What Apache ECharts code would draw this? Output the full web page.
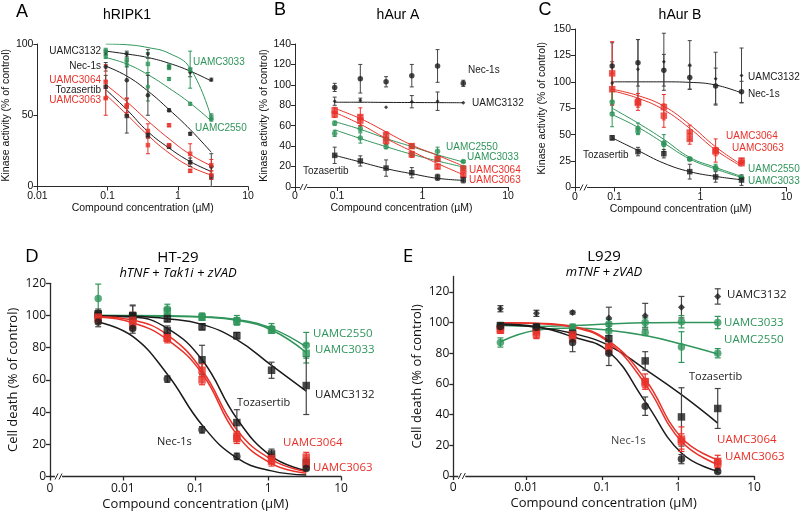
<!DOCTYPE html>
<html><head><meta charset="utf-8">
<script src="https://cdn.jsdelivr.net/npm/echarts@6/dist/echarts.min.js"></script>
<style>html,body{margin:0;padding:0;background:#fff}#c{width:800px;height:516px}</style>
</head><body><div id="c"></div>
<script>
// ---------------- DATA ----------------
const concABC = [0.094, 0.1875, 0.375, 0.75, 1.5, 3];
const concDE = [0.0046, 0.0137, 0.041, 0.123, 0.37, 1.11, 3.33];

const xLabelsA = ['0.01', '0.1', '1', '10'];
const xLabelsBC = ['0', '0.1', '1', '10'];
const xLabelsDE = ['0', '0.01', '0.1', '1', '10'];
const yTicksA = [0, 50, 100];
const yTicksB = [0, 20, 40, 60, 80, 100, 120, 140];
const yTicksC = [0, 25, 50, 75, 100, 125, 150];
const yTicksDE = [0, 20, 40, 60, 80, 100, 120];

// Panel A  hRIPK1
const A_3132 = [94, 93, 93, 84, 80, 75],       A_3132_err = [1.5, 2, 3, 1, 3, 1],   A_3132_fit = [95, 93, 90.5, 86.5, 81, 74];
const A_3033 = [95, 89, 86, 84, 82, 49],       A_3033_err = [2, 5, 8, 2, 13, 2],    A_3033_fit = [100, 99.5, 97.5, 93.5, 83, 48];
const A_2550 = [91, 86, 70, 75.5, 58, 47],     A_2550_err = [1, 2, 10, 1, 1, 1],    A_2550_fit = [90.5, 86, 78.5, 69, 58.5, 46];
const A_Nec1s = [84, 74.5, 64, 53.5, 37, 14],  A_Nec1s_err = [3, 18, 14, 1, 1, 9],  A_Nec1s_fit = [84.5, 77.5, 67, 54, 40, 24];
const A_3064 = [73.5, 57, 39, 43, 23, 15],     A_3064_err = [12, 5, 5, 1, 7, 4],    A_3064_fit = [71.5, 59.5, 46, 33.5, 22.5, 14.5];
const A_Toz = [70, 49.5, 36, 28, 17, 7],       A_Toz_err = [8, 12, 2, 1, 3, 7],     A_Toz_fit = [68, 54, 38.5, 27, 17.5, 10.5];
const A_3063 = [62, 56, 29, 29, 11, 8],        A_3063_err = [12, 6, 6, 1, 1, 3],    A_3063_fit = [64.5, 50.5, 36, 23.5, 14, 8];

// Panel B  hAur A
const B_Nec1s = [97.5, 106, 103, 109, 118.5, 101.5], B_Nec1s_err = [4, 14, 5, 11, 16, 3];
const B_3132 = [84, 85, 78, 83.5, 84, 82.5],   B_3132_err = [4, 2, 0, 6, 9, 0],     B_3132_fit = [83, 83, 82.8, 82.7, 82.6, 82.5];
const B_3064 = [75, 68.5, 51, 40, 27.5, 18],   B_3064_err = [3, 9, 3, 2, 2, 2],     B_3064_fit = [77, 67, 54, 41, 31, 20.5];
const B_3063 = [71, 65, 45, 32, 20, 12],       B_3063_err = [3, 5, 3, 3, 2, 2],     B_3063_fit = [73, 61.5, 47.5, 35, 23, 12];
const B_2550 = [62.5, 57, 47, 40, 35, 25],     B_2550_err = [2, 3, 5, 2, 4, 1],     B_2550_fit = [64, 56.5, 47.5, 39.5, 31.5, 24.5];
const B_3033 = [52.5, 48, 39.5, 32, 27, 19],   B_3033_err = [3, 5, 2, 2, 2, 1],     B_3033_fit = [56, 47.5, 39.5, 32, 25.5, 19.5];
const B_Toz = [31, 25.5, 18.5, 14, 9.5, 7],    B_Toz_err = [8, 5, 8, 5, 3, 3],      B_Toz_fit = [31, 24.5, 18, 13, 8.5, 6.5];

// Panel C  hAur B
const C_3132 = [99, 112, 119, 116, 103, 106],  C_3132_err = [20, 28, 27, 23, 25, 26];
const C_Nec1s = [115, 118, 111, 104, 96, 90.5], C_Nec1s_err = [22, 22, 15, 11, 17, 10], C_Nec1s_fit = [100, 100, 100, 99.5, 97, 89.5];
const C_3064 = [108, 81, 76, 52, 35, 25.5],    C_3064_err = [30, 8, 12, 7, 11, 2],  C_3064_fit = [93, 87, 77, 59.5, 38.5, 21.5];
const C_3063 = [93, 80, 68, 46, 34, 23],       C_3063_err = [15, 4, 11, 5, 4, 1],   C_3063_fit = [91.5, 84.5, 73.5, 56, 35.5, 20];
const C_2550 = [81, 56, 42, 27, 19, 9.5],      C_2550_err = [10, 5, 8, 1, 3, 1],    C_2550_fit = [75, 61, 45.5, 28.5, 19, 10.5];
const C_3033 = [69.5, 53, 41, 27, 18, 9],      C_3033_err = [12, 3, 2, 1, 1, 1],    C_3033_fit = [69, 57, 42, 27, 17.5, 9.5];
const C_Toz = [47, 34, 32, 15, 10, 7],         C_Toz_err = [2, 4, 4, 7, 5, 5],      C_Toz_fit = [47, 35, 23, 15, 10.5, 7.3];

// Panel D  HT-29
const D_Nec1s = [96, 92, 60.5, 29, 12.5, null, 5], D_Nec1s_err = [3, 3, 2, 2, 2, 0, 1], D_Nec1s_fit = [96, 87, 63.5, 32, 11.5, 3.5, 1];
const D_Toz = [101, 100, 90.5, 72.5, 33.5, 14, 8.5], D_Toz_err = [3, 6, 3, 9, 8, 3, 3], D_Toz_fit = [99.5, 99, 92, 72.5, 36, 12.5, 3.7];
const D_3132 = [100, 99.5, 98, 93, 87.5, 66, 56.5], D_3132_err = [3, 7, 2, 2, 2, 5, 18], D_3132_fit = [99.8, 99.5, 98, 94.5, 85, 69, 53];
const D_3064 = [98, 97, 86, 66, 25, 11, 12],   D_3064_err = [3, 5, 3, 4, 3, 3, 3],  D_3064_fit = [99.3, 97.2, 88, 66, 29, 10.5, 3];
const D_3063 = [99, 95, 86, 60, 23.5, 9.5, 7.5], D_3063_err = [2, 4, 2, 3, 3, 3, 3], D_3063_fit = [99, 95.5, 85, 64, 26, 8, 2];
const D_2550 = [110.5, 98, 104, 99.5, 97, 92, 81.5], D_2550_err = [9, 3, 3, 2, 3, 3, 8], D_2550_fit = [100, 100, 99.8, 99.3, 97.5, 92, 80.5];
const D_3033 = [100.5, 99.5, 102.5, 99, 96.5, 91, 76.5], D_3033_err = [2, 2, 2, 2, 2, 2, 6], D_3033_fit = [100, 99.8, 99.5, 99, 97, 91, 77];

// Panel E  L929
const E_3132 = [109, 106, 106.5, 103, 104.5, 110, 117], E_3132_err = [2, 2, 1, 7, 8, 7, 5];
const E_3033 = [98, 96, 97, 99, 100, 100.5, 100], E_3033_err = [1, 2, 2, 3, 3, 4, 4], E_3033_fit = [98, 97.5, 98, 99, 99.8, 100, 100];
const E_2550 = [87, 96, 96.5, 94.5, 93.5, 84, 80], E_2550_err = [3, 2, 2, 3, 2, 10, 3], E_2550_fit = [87.5, 95, 96.5, 95, 91.5, 86, 79.5];
const E_Toz = [98, 97, 93, 89.5, 75, 38.5, 44], E_Toz_err = [2, 2, 3, 10, 6, 19, 13], E_Toz_fit = [98.5, 97, 93, 85, 69.5, 53, 34.5];
const E_Nec1s = [97.5, 97, 87, 80, 45.5, 11, 3], E_Nec1s_err = [2, 2, 6, 8, 6, 3, 1], E_Nec1s_fit = [99, 97.2, 90.7, 81, 48.5, 15, 3];
const E_3064 = [96, 94, 92, 84, 61.5, 24, 9.5], E_3064_err = [3, 4, 4, 4, 5, 8, 4], E_3064_fit = [99.8, 99.5, 97.5, 88, 63, 25, 10.5];
const E_3063 = [95, 92.5, 90.5, 83, 60.5, 22.5, 8], E_3063_err = [2, 3, 3, 3, 3, 5, 3], E_3063_fit = [99.8, 99.3, 97, 87, 60, 22.5, 7.5];

// ---------------- STYLE / LAYOUT ----------------
const RED = '#e8322a', GREEN = '#2f955b', BLACK = '#1b1b1b';
const F1 = 'Liberation Sans, Arial, sans-serif';
const F2 = 'Open Sans, sans-serif';

const panels = [
  { grid: {left: 36, top: 44, width: 212, height: 142.5}, conc: concABC, xMin: -2, xMax: 1, xLabels: xLabelsA,
    yMax: 100, yTicks: yTicksA, yName: 'Kinase activity (% of control)', font: F1, fs: 10.5, nfs: 10.5,
    xNameGap: 14, yNameGap: 20, lblMargin: 4, size: 4.5, cap: 2, lw: 1, brk: false,
    series: [
      {c: BLACK, s: 'diamond', v: A_3132, e: A_3132_err, f: A_3132_fit},
      {c: GREEN, s: 'rect', v: A_3033, e: A_3033_err, f: A_3033_fit},
      {c: GREEN, s: 'circle', v: A_2550, e: A_2550_err, f: A_2550_fit},
      {c: BLACK, s: 'circle', v: A_Nec1s, e: A_Nec1s_err, f: A_Nec1s_fit},
      {c: RED, s: 'rect', v: A_3064, e: A_3064_err, f: A_3064_fit},
      {c: BLACK, s: 'rect', v: A_Toz, e: A_Toz_err, f: A_Toz_fit},
      {c: RED, s: 'rect', v: A_3063, e: A_3063_err, f: A_3063_fit}
    ]},
  { grid: {left: 295, top: 44, width: 213, height: 143}, conc: concABC, xMin: -1.491, xMax: 1, xLabels: xLabelsBC,
    yMax: 140, yTicks: yTicksB, yName: 'Kinase activity (% of control)', font: F1, fs: 10.5, nfs: 10.5,
    xNameGap: 14, yNameGap: 24, lblMargin: 4, size: 5.5, cap: 2, lw: 1, brk: true,
    series: [
      {c: BLACK, s: 'circle', v: B_Nec1s, e: B_Nec1s_err, f: null},
      {c: BLACK, s: 'diamond', v: B_3132, e: B_3132_err, f: B_3132_fit, sz: 4},
      {c: GREEN, s: 'circle', v: B_2550, e: B_2550_err, f: B_2550_fit},
      {c: GREEN, s: 'circle', v: B_3033, e: B_3033_err, f: B_3033_fit},
      {c: RED, s: 'rect', v: B_3064, e: B_3064_err, f: B_3064_fit, sz: 6.5},
      {c: RED, s: 'rect', v: B_3063, e: B_3063_err, f: B_3063_fit, sz: 6.5},
      {c: BLACK, s: 'rect', v: B_Toz, e: B_Toz_err, f: B_Toz_fit}
    ]},
  { grid: {left: 575, top: 29, width: 211.5, height: 158.5}, conc: concABC, xMin: -1.459, xMax: 1, xLabels: xLabelsBC,
    yMax: 150, yTicks: yTicksC, yName: 'Kinase activity (% of control)', font: F1, fs: 10.5, nfs: 10.5,
    xNameGap: 14, yNameGap: 27, lblMargin: 4, size: 5.5, cap: 2, lw: 1, brk: true,
    series: [
      {c: BLACK, s: 'diamond', v: C_3132, e: C_3132_err, f: null, sz: 4},
      {c: BLACK, s: 'circle', v: C_Nec1s, e: C_Nec1s_err, f: C_Nec1s_fit},
      {c: RED, s: 'rect', v: C_3064, e: C_3064_err, f: C_3064_fit, sz: 6.5},
      {c: RED, s: 'rect', v: C_3063, e: C_3063_err, f: C_3063_fit, sz: 6.5},
      {c: GREEN, s: 'circle', v: C_2550, e: C_2550_err, f: C_2550_fit},
      {c: GREEN, s: 'circle', v: C_3033, e: C_3033_err, f: C_3033_fit},
      {c: BLACK, s: 'rect', v: C_Toz, e: C_Toz_err, f: C_Toz_fit}
    ]},
  { grid: {left: 50, top: 283.3, width: 291, height: 193.2}, conc: concDE, xMin: -3, xMax: 1, xLabels: xLabelsDE,
    yMax: 120, yTicks: yTicksDE, yName: 'Cell death (% of control)', font: F2, fs: 12, nfs: 13,
    xNameGap: 21, yNameGap: 30, lblMargin: 6, size: 7.5, cap: 3, lw: 1.5, brk: true,
    series: [
      {c: GREEN, s: 'circle', v: D_2550, e: D_2550_err, f: D_2550_fit},
      {c: GREEN, s: 'rect', v: D_3033, e: D_3033_err, f: D_3033_fit},
      {c: BLACK, s: 'rect', v: D_3132, e: D_3132_err, f: D_3132_fit},
      {c: BLACK, s: 'rect', v: D_Toz, e: D_Toz_err, f: D_Toz_fit},
      {c: RED, s: 'rect', v: D_3064, e: D_3064_err, f: D_3064_fit},
      {c: RED, s: 'rect', v: D_3063, e: D_3063_err, f: D_3063_fit},
      {c: BLACK, s: 'circle', v: D_Nec1s, e: D_Nec1s_err, f: D_Nec1s_fit}
    ]},
  { grid: {left: 453.3, top: 276.5, width: 300.7, height: 199.5}, conc: concDE, xMin: -2.957, xMax: 1, xLabels: xLabelsDE,
    yMax: 130, yTicks: yTicksDE, yName: 'Cell death (% of control)', font: F2, fs: 12, nfs: 13,
    xNameGap: 21, yNameGap: 30, lblMargin: 6, size: 7.5, cap: 3, lw: 1.5, brk: true,
    series: [
      {c: BLACK, s: 'diamond', v: E_3132, e: E_3132_err, f: null, sz: 7},
      {c: GREEN, s: 'circle', v: E_3033, e: E_3033_err, f: E_3033_fit},
      {c: GREEN, s: 'circle', v: E_2550, e: E_2550_err, f: E_2550_fit},
      {c: BLACK, s: 'rect', v: E_Toz, e: E_Toz_err, f: E_Toz_fit},
      {c: RED, s: 'rect', v: E_3064, e: E_3064_err, f: E_3064_fit},
      {c: RED, s: 'rect', v: E_3063, e: E_3063_err, f: E_3063_fit},
      {c: BLACK, s: 'circle', v: E_Nec1s, e: E_Nec1s_err, f: E_Nec1s_fit}
    ]}
];

const texts = [
  {t: 'A', x: 22, y: 12, c: '#000', f: '18px ' + F1, a: 'center'},
  {t: 'hRIPK1', x: 127, y: 15, c: '#000', f: '14px ' + F1, a: 'center'},
  {t: 'B', x: 280, y: 10, c: '#000', f: '18px ' + F1, a: 'center'},
  {t: 'hAur A', x: 398, y: 15, c: '#000', f: '14px ' + F1, a: 'center'},
  {t: 'C', x: 545, y: 10, c: '#000', f: '18px ' + F1, a: 'center'},
  {t: 'hAur B', x: 680, y: 15, c: '#000', f: '14px ' + F1, a: 'center'},
  {t: 'D', x: 32, y: 257, c: '#000', f: '19px ' + F2, a: 'center'},
  {t: 'HT-29', x: 178, y: 258, c: '#000', f: '15px ' + F2, a: 'center'},
  {t: 'hTNF + Tak1i + zVAD', x: 178, y: 273, c: '#000', f: 'italic 13px ' + F2, a: 'center'},
  {t: 'E', x: 408, y: 257, c: '#000', f: '19px ' + F2, a: 'center'},
  {t: 'L929', x: 604, y: 257, c: '#000', f: '15px ' + F2, a: 'center'},
  {t: 'mTNF + zVAD', x: 604, y: 272, c: '#000', f: 'italic 13px ' + F2, a: 'center'},
  {t: 'UAMC3132', x: 101, y: 51, c: BLACK, f: '10px ' + F1, a: 'right'},
  {t: 'Nec-1s', x: 101, y: 66, c: BLACK, f: '10px ' + F1, a: 'right'},
  {t: 'UAMC3064', x: 101, y: 80, c: RED, f: '10px ' + F1, a: 'right'},
  {t: 'Tozasertib', x: 101, y: 90, c: BLACK, f: '10px ' + F1, a: 'right'},
  {t: 'UAMC3063', x: 101, y: 100, c: RED, f: '10px ' + F1, a: 'right'},
  {t: 'UAMC3033', x: 193, y: 62, c: GREEN, f: '10px ' + F1, a: 'left'},
  {t: 'UAMC2550', x: 195, y: 128, c: GREEN, f: '10px ' + F1, a: 'left'},
  {t: 'Nec-1s', x: 468, y: 70, c: BLACK, f: '10px ' + F1, a: 'left'},
  {t: 'UAMC3132', x: 472, y: 103, c: BLACK, f: '10px ' + F1, a: 'left'},
  {t: 'UAMC2550', x: 446, y: 147, c: GREEN, f: '10px ' + F1, a: 'left'},
  {t: 'UAMC3033', x: 467, y: 157, c: GREEN, f: '10px ' + F1, a: 'left'},
  {t: 'UAMC3064', x: 469, y: 170, c: RED, f: '10px ' + F1, a: 'left'},
  {t: 'UAMC3063', x: 469, y: 180, c: RED, f: '10px ' + F1, a: 'left'},
  {t: 'Tozasertib', x: 303, y: 171, c: BLACK, f: '10px ' + F1, a: 'left'},
  {t: 'UAMC3132', x: 748, y: 77, c: BLACK, f: '10px ' + F1, a: 'left'},
  {t: 'Nec-1s', x: 748, y: 94, c: BLACK, f: '10px ' + F1, a: 'left'},
  {t: 'UAMC3064', x: 726, y: 136, c: RED, f: '10px ' + F1, a: 'left'},
  {t: 'UAMC3063', x: 732, y: 148, c: RED, f: '10px ' + F1, a: 'left'},
  {t: 'UAMC2550', x: 748, y: 169, c: GREEN, f: '10px ' + F1, a: 'left'},
  {t: 'UAMC3033', x: 748, y: 181, c: GREEN, f: '10px ' + F1, a: 'left'},
  {t: 'Tozasertib', x: 583, y: 155, c: BLACK, f: '10px ' + F1, a: 'left'},
  {t: 'UAMC2550', x: 313, y: 334, c: GREEN, f: '11.5px ' + F2, a: 'left'},
  {t: 'UAMC3033', x: 315, y: 350, c: GREEN, f: '11.5px ' + F2, a: 'left'},
  {t: 'UAMC3132', x: 315, y: 395, c: BLACK, f: '11.5px ' + F2, a: 'left'},
  {t: 'Tozasertib', x: 237, y: 403, c: '#222', f: '11px ' + F2, a: 'left'},
  {t: 'Nec-1s', x: 157, y: 442, c: '#222', f: '11px ' + F2, a: 'left'},
  {t: 'UAMC3064', x: 283, y: 443, c: RED, f: '11.5px ' + F2, a: 'left'},
  {t: 'UAMC3063', x: 313, y: 468, c: RED, f: '11.5px ' + F2, a: 'left'},
  {t: 'UAMC3132', x: 727, y: 295, c: BLACK, f: '11.5px ' + F2, a: 'left'},
  {t: 'UAMC3033', x: 724, y: 323, c: GREEN, f: '11.5px ' + F2, a: 'left'},
  {t: 'UAMC2550', x: 724, y: 340, c: GREEN, f: '11.5px ' + F2, a: 'left'},
  {t: 'Tozasertib', x: 689, y: 377, c: '#222', f: '11px ' + F2, a: 'left'},
  {t: 'Nec-1s', x: 611, y: 441, c: '#444', f: '11px ' + F2, a: 'left'},
  {t: 'UAMC3064', x: 717, y: 440, c: RED, f: '11.5px ' + F2, a: 'left'},
  {t: 'UAMC3063', x: 725, y: 457, c: RED, f: '11.5px ' + F2, a: 'left'}
];

// ---------------- BUILD ----------------
const chart = echarts.init(document.getElementById('c'), null, {renderer: 'canvas'});
const lg = Math.log10;

function tickVals(p) {
  return p.xLabels.map(l => l === '0' ? p.xMin : lg(parseFloat(l)));
}

function errRender(cap, lw) {
  return function (params, api) {
    const x = api.value(0), y = api.value(1), e = api.value(2);
    if (!(e > 0)) return null;
    const t = api.coord([x, y + e]), b = api.coord([x, Math.max(0, y - e)]);
    const st = {stroke: api.visual('color'), lineWidth: lw};
    return {type: 'group', children: [
      {type: 'line', shape: {x1: t[0], y1: t[1], x2: b[0], y2: b[1]}, style: st},
      {type: 'line', shape: {x1: t[0] - cap, y1: t[1], x2: t[0] + cap, y2: t[1]}, style: st},
      {type: 'line', shape: {x1: b[0] - cap, y1: b[1], x2: b[0] + cap, y2: b[1]}, style: st}
    ]};
  };
}

const grids = [], xAxes = [], yAxes = [], series = [], graphics = [];
panels.forEach((p, i) => {
  grids.push(Object.assign({containLabel: false}, p.grid));
  const tv = tickVals(p);
  const axisColor = '#2a2a2a';
  const aw = p.lw === 1 ? 1 : 1.3;
  xAxes.push({
    gridIndex: i, type: 'value', min: p.xMin, max: p.xMax, position: 'bottom',
    axisLine: {show: true, onZero: false, lineStyle: {color: axisColor, width: aw}},
    axisTick: {show: true, customValues: tv, length: 4, lineStyle: {color: axisColor, width: aw}},
    axisLabel: {customValues: tv, margin: p.lblMargin, color: '#111', fontSize: p.fs, fontFamily: p.font,
      formatter: v => { const k = tv.findIndex(t => Math.abs(t - v) < 1e-6); return k >= 0 ? p.xLabels[k] : ''; }},
    splitLine: {show: false}, minorTick: {show: false},
    name: 'Compound concentration (µM)', nameLocation: 'middle', nameGap: p.xNameGap,
    nameTextStyle: {fontSize: p.nfs, fontFamily: p.font, color: '#111'}
  });
  yAxes.push({
    gridIndex: i, type: 'value', min: 0, max: p.yMax, position: 'left',
    axisLine: {show: true, onZero: false, lineStyle: {color: axisColor, width: aw}},
    axisTick: {show: true, customValues: p.yTicks, length: 4, lineStyle: {color: axisColor, width: aw}},
    axisLabel: {customValues: p.yTicks, margin: 4, color: '#111', fontSize: p.fs, fontFamily: p.font},
    splitLine: {show: false},
    name: p.yName, nameLocation: 'middle', nameRotate: 90, nameGap: p.yNameGap,
    nameTextStyle: {fontSize: p.nfs, fontFamily: p.font, color: '#111'}
  });
  p.series.forEach(s => {
    if (s.f) {
      series.push({type: 'line', xAxisIndex: i, yAxisIndex: i, silent: true, z: 2,
        data: p.conc.map((c, k) => [lg(c), s.f[k]]), smooth: 0.45,
        symbol: 'none', lineStyle: {color: s.c, width: p.lw}});
    }
    const pts = [];
    p.conc.forEach((c, k) => { if (s.v[k] != null) pts.push([lg(c), s.v[k], s.e[k]]); });
    series.push({type: 'custom', xAxisIndex: i, yAxisIndex: i, silent: true, z: 3,
      itemStyle: {color: s.c === BLACK ? '#444' : s.c, opacity: s.c === BLACK ? 0.9 : 0.85},
      renderItem: errRender(p.cap, p.lw === 1 ? 1 : 1.2), encode: {x: 0, y: 1}, data: pts});
    series.push({type: 'scatter', xAxisIndex: i, yAxisIndex: i, silent: true, z: 4,
      symbol: s.s, symbolSize: s.sz || p.size, itemStyle: {color: s.c},
      data: pts.map(d => [d[0], d[1]])});
  });
  if (p.brk) {
    const bx = p.grid.left + 8, by = p.grid.top + p.grid.height;
    graphics.push({type: 'rect', shape: {x: bx - 3, y: by - 2, width: 7, height: 4}, style: {fill: '#fff'}, z: 100});
    graphics.push({type: 'line', shape: {x1: bx - 3, y1: by + 3, x2: bx, y2: by - 3}, style: {stroke: '#2a2a2a', lineWidth: 1}, z: 101});
    graphics.push({type: 'line', shape: {x1: bx + 1, y1: by + 3, x2: bx + 4, y2: by - 3}, style: {stroke: '#2a2a2a', lineWidth: 1}, z: 101});
  }
});

texts.forEach(t => graphics.push({type: 'text', x: t.x, y: t.y, z: 50,
  style: {text: t.t, fill: t.c, font: t.f, align: t.a, verticalAlign: 'middle'}}));

chart.setOption({
  animation: false,
  backgroundColor: '#fff',
  textStyle: {fontFamily: F1},
  grid: grids, xAxis: xAxes, yAxis: yAxes, series: series, graphic: graphics
});
</script></body></html>
